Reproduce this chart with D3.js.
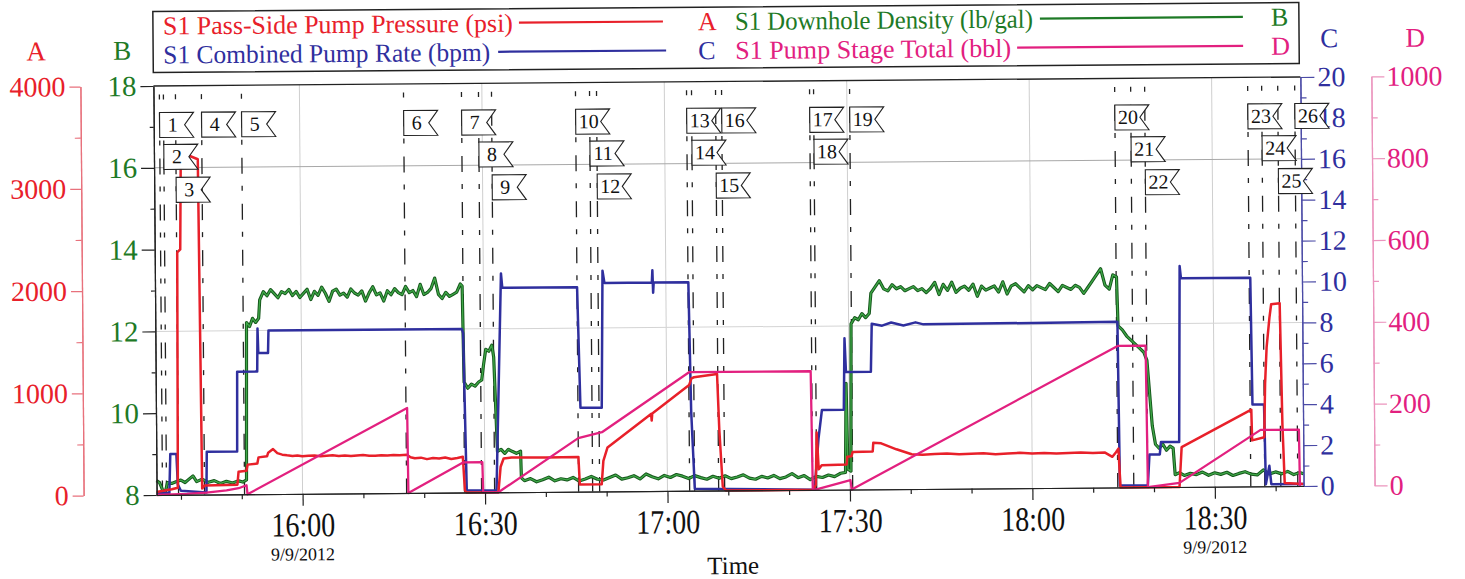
<!DOCTYPE html>
<html>
<head>
<meta charset="utf-8">
<script src="https://cdn.jsdelivr.net/npm/d3@7"></script>
<style>
  html, body { margin: 0; padding: 0; background: #fff; }
  svg { display: block; }
  text { font-family: "Liberation Serif", "DejaVu Serif", serif; }
</style>
</head>
<body>
<svg id="chart" width="1465" height="579"></svg>
<script>

// ---- data (time = minutes after 16:00, 9/9/2012) ----

const seriesNames = [
  "S1 Pass-Side Pump Pressure (psi)",
  "S1 Downhole Density (lb/gal)",
  "S1 Combined Pump Rate (bpm)",
  "S1 Pump Stage Total (bbl)"
];
const seriesAxes = ["A", "B", "C", "D"];

// pressure, psi (axis A)
const pressure = [
  [-24.0, 30], [-22.9, 40], [-21.5, 55], [-20.5, 70], [-20.3, 2370], [-19.8, 2400],
  [-19.6, 3300], [-18.0, 3310], [-16.8, 3280], [-16.5, 60], [-16.1, 90], [-10.7, 94],
  [-10.5, 220], [-9.2, 230], [-9.0, 290], [-7.4, 300], [-7.2, 360], [-5.8, 370],
  [-5.6, 405], [-4.8, 440], [-4.1, 400], [-3.3, 385], [-2.5, 378], [-1.6, 372],
  [-0.8, 376], [0, 368], [1, 372], [2, 375], [3, 366], [4, 370], [5, 374], [6, 368],
  [7, 372], [8, 366], [9, 371], [10, 375], [11, 368], [12, 366], [13, 372], [14, 369],
  [15, 374], [16, 370], [17.2, 375], [17.8, 350], [18.5, 340], [19.5, 345], [20.5, 330],
  [21.5, 340], [22.5, 335], [23.5, 345], [24.5, 330], [25.5, 338], [26.4, 350],
  [26.7, 20], [27.0, 0], [32.2, 0], [32.6, 250], [33.1, 330], [34.4, 340], [40, 338],
  [45.4, 340], [45.6, 70], [49.2, 70], [49.5, 300], [50.2, 430], [57.4, 755],
  [57.5, 690], [57.6, 760], [63.7, 1035], [64.1, 1100], [64.5, 1110], [68.3, 1140],
  [68.6, 600], [69.1, 40], [69.6, 0], [84.0, 0], [84.4, 50], [84.6, 560], [84.9, 200],
  [85.4, 240], [89.5, 245], [89.6, 320], [90.3, 325], [90.5, 367], [93.8, 370],
  [93.9, 455], [95.2, 450], [97.7, 390], [100.2, 340], [102, 335], [104, 340],
  [106, 345], [108, 336], [110, 340], [112, 344], [114, 335], [116, 340], [118, 346],
  [120, 338], [122, 342], [124, 336], [126, 340], [128, 345], [130, 338], [132, 342],
  [133.2, 300], [133.8, 345], [134.2, 380], [134.5, 0], [144.2, 0], [144.6, 390],
  [156.1, 750], [156.2, 450], [158.2, 480], [158.4, 1000], [158.7, 1360], [159.2, 1650],
  [159.5, 1780], [160.9, 1790], [161.2, 600], [161.5, 30], [164.6, 20]
];

// downhole density, lb/gal (axis B)
const density = [
  [-24, 8.35], [-23.5, 8.3], [-23.0, 8.12], [-22.6, 8.05], [-22.2, 8.3], [-21.5, 8.28],
  [-20.8, 8.32], [-20.0, 8.36], [-19.3, 8.3], [-18.5, 8.4], [-18.0, 8.46], [-17.4, 8.32],
  [-16.5, 8.38], [-15.5, 8.3], [-14.5, 8.34], [-13.5, 8.27], [-12.5, 8.32], [-11.5, 8.28],
  [-10.5, 8.33], [-9.8, 8.3], [-9.2, 8.35], [-9.0, 12.2], [-8.5, 12.1], [-8.0, 12.3],
  [-7.5, 12.2], [-7.0, 12.3], [-6.8, 12.75], [-6.2, 12.95], [-5.6, 12.85], [-5.0, 13.0],
  [-4.4, 12.9], [-3.8, 12.8], [-3.2, 12.95], [-2.6, 12.9], [-2.0, 13.0], [-1.4, 12.85],
  [-0.8, 12.95], [-0.2, 12.8], [0.4, 12.9], [1.0, 13.0], [1.6, 12.75], [2.2, 12.95],
  [2.8, 12.85], [3.4, 13.05], [4.0, 12.9], [4.6, 12.7], [5.2, 12.95], [5.8, 13.0],
  [6.4, 12.85], [7.0, 12.9], [7.6, 12.8], [8.2, 13.0], [8.8, 12.9], [9.4, 12.85],
  [10.0, 12.95], [10.6, 12.7], [11.2, 12.9], [11.8, 13.05], [12.4, 12.85], [13.0, 12.9],
  [13.6, 12.7], [14.2, 12.95], [14.8, 12.85], [15.4, 13.0], [16.0, 12.9], [16.6, 12.85],
  [17.2, 13.05], [17.8, 12.9], [18.4, 12.95], [19.0, 12.8], [19.6, 13.1], [20.2, 12.85],
  [20.8, 12.9], [21.4, 13.0], [22.0, 13.25], [22.6, 12.85], [23.2, 12.75], [23.8, 12.9],
  [24.4, 12.8], [25.0, 12.85], [25.6, 12.9], [26.2, 13.1], [26.5, 13.05], [26.7, 10.7],
  [27.3, 10.55], [27.9, 10.65], [28.5, 10.6], [29.1, 10.7], [29.6, 10.75], [29.9, 11.1],
  [30.3, 11.5], [30.8, 11.45], [31.3, 11.6], [31.6, 11.3], [32.1, 9.0], [32.7, 9.05],
  [33.3, 8.95], [33.9, 9.05], [34.5, 9.0], [35.2, 8.95], [35.9, 9.0], [36.0, 8.35],
  [36.5, 8.28], [37.5, 8.33], [38.5, 8.25], [39.5, 8.3], [40.5, 8.36], [41.5, 8.27],
  [42.5, 8.32], [43.5, 8.29], [44.5, 8.35], [45.5, 8.26], [46.5, 8.31], [47.5, 8.37],
  [48.5, 8.3], [49.5, 8.28], [50.5, 8.34], [51.5, 8.4], [52.5, 8.3], [53.5, 8.33],
  [54.5, 8.38], [55.5, 8.3], [56.5, 8.42], [57.5, 8.35], [58.5, 8.3], [59.5, 8.38],
  [60.5, 8.33], [61.5, 8.4], [62.5, 8.36], [63.5, 8.3], [64.5, 8.37], [65.5, 8.32],
  [66.5, 8.28], [67.5, 8.35], [68.5, 8.3], [69.5, 8.36], [70.5, 8.29], [71.5, 8.33],
  [72.5, 8.38], [73.5, 8.3], [74.5, 8.27], [75.5, 8.34], [76.5, 8.3], [77.5, 8.36],
  [78.5, 8.28], [79.5, 8.32], [80.5, 8.4], [81.5, 8.3], [82.5, 8.35], [83.5, 8.25],
  [84.5, 8.33], [85.5, 8.3], [86.5, 8.36], [87.5, 8.32], [88.5, 8.4], [89.3, 8.42],
  [89.5, 10.6], [89.7, 8.5], [90.2, 8.45], [90.4, 12.05], [91.0, 12.2], [91.6, 12.15],
  [92.2, 12.3], [92.8, 12.2], [93.4, 12.3], [93.7, 12.8], [94.4, 12.95], [95.1, 13.1],
  [95.8, 12.9], [96.5, 12.85], [97.2, 13.0], [97.9, 12.9], [98.6, 12.95], [99.3, 12.85],
  [100.0, 12.9], [100.7, 12.95], [101.4, 12.85], [102.1, 12.9], [102.8, 12.8], [103.5, 12.9],
  [104.2, 13.05], [104.9, 12.75], [105.6, 13.0], [106.3, 12.85], [107.0, 13.05], [107.7, 12.8],
  [108.4, 12.9], [109.1, 12.95], [109.8, 12.85], [110.5, 13.0], [111.2, 12.7], [111.9, 12.95],
  [112.6, 12.85], [113.3, 12.9], [114.0, 12.95], [114.7, 12.8], [115.4, 13.05], [116.1, 12.75],
  [116.8, 12.95], [117.5, 13.0], [118.2, 12.9], [118.9, 12.8], [119.6, 12.95], [120.3, 12.85],
  [121.0, 12.95], [121.7, 12.9], [122.4, 12.85], [123.1, 13.0], [123.8, 12.9], [124.5, 12.8],
  [125.2, 12.95], [125.9, 12.9], [126.6, 12.85], [127.3, 12.95], [128.0, 12.9], [128.7, 12.75],
  [129.4, 12.9], [130.1, 13.05], [130.8, 13.2], [131.5, 13.35], [132.2, 12.95], [132.9, 12.85],
  [133.5, 13.2], [134.1, 13.15], [134.3, 11.95], [135.0, 11.85], [135.7, 11.7], [136.4, 11.6],
  [137.1, 11.5], [137.8, 11.4], [138.5, 11.3], [139.0, 11.1], [139.4, 10.3], [139.8, 9.5],
  [140.3, 9.05], [140.9, 8.95], [141.5, 9.05], [142.1, 8.9], [142.7, 9.0], [143.2, 8.95],
  [143.5, 8.3], [144.2, 8.35], [145.0, 8.28], [146.0, 8.33], [147.0, 8.3], [148.0, 8.36],
  [149.0, 8.28], [150.0, 8.34], [151.0, 8.3], [152.0, 8.35], [153.0, 8.27], [154.0, 8.32],
  [155.0, 8.36], [156.0, 8.3], [157.0, 8.28], [158.0, 8.4], [159.0, 8.3], [160.0, 8.35],
  [161.0, 8.3], [162.0, 8.36], [163.0, 8.28], [164.0, 8.33], [164.6, 8.3]
];

// combined pump rate, bpm (axis C)
const rate = [
  [-24, 0.1], [-21.9, 0.1], [-21.7, 2.0], [-20.7, 2.0], [-20.5, 0.5], [-20.0, 0.2],
  [-15.8, 0.1], [-15.7, 2.1], [-10.7, 2.1], [-10.6, 6.0], [-7.3, 6.0], [-7.2, 8.1],
  [-7.1, 6.9], [-5.5, 6.9], [-5.4, 8.0], [26.4, 8.0], [26.6, 7.8], [27.0, 0.1],
  [31.9, 0.1], [32.9, 10.7], [33.1, 10.0], [45.4, 10.0], [45.8, 4.1], [49.3, 4.1],
  [49.6, 10.8], [49.9, 10.2], [57.7, 10.2], [57.8, 10.8], [57.9, 9.7], [58.0, 10.2],
  [63.7, 10.2], [64.0, 3.9], [64.5, 0.1], [84.2, 0.0], [84.9, 2.5], [85.5, 3.9],
  [89.1, 3.9], [89.3, 7.4], [89.5, 5.75], [93.6, 5.75], [93.8, 8.1], [95.5, 8.0],
  [97, 8.15], [99, 8.0], [101, 8.15], [102.3, 8.05], [134.2, 8.1], [134.4, 0.1],
  [139.0, 0.1], [139.3, 1.6], [141.0, 1.6], [141.2, 2.2], [144.2, 2.2], [144.5, 10.8],
  [144.7, 10.2], [156.1, 10.2], [156.3, 4.0], [158.2, 4.0], [158.4, 0.1], [159.0, 1.0],
  [159.3, 0.1], [164.6, 0.1]
];

// pump stage total, bbl (axis D)
const stage = [
  [-24, 0], [-19, 2], [-15.8, 5], [-12.5, 10], [-10.5, 15], [-9.2, 22], [-9.05, 0],
  [17.3, 208], [17.4, 0], [26.5, 74], [29.6, 74], [29.7, 0], [32.2, 0], [45.4, 131],
  [49.3, 145], [63.7, 290], [83.7, 290], [83.9, 0], [84.2, 0], [90.1, 23], [90.3, 0],
  [134.2, 346], [138.8, 346], [139.0, 0], [144.2, 10], [157.6, 138], [163.9, 138],
  [164.0, 0]
];

// event markers
const eventLabels = ["1","2","3","4","5","6","7","8","9","10","11","12","13",
  "14","15","16","17","18","19","20","21","22","23","24","25","26"];
const eventTimes = [-23.03, -22.37, -20.39, -16.12, -9.54, 17.11, 26.64, 29.44, 31.58,
  45.39, 47.70, 48.85, 63.65, 64.47, 68.42, 69.41, 83.88, 84.54, 90.46, 134.05,
  136.68, 138.98, 155.92, 158.22, 160.86, 163.65];
const eventRows = [0,1,2,0,0,0,0,1,2,0,1,2,0,1,2,0,0,1,0,0,1,2,0,1,2,0];

// axis ticks
const ticksA = [0, 1000, 2000, 3000, 4000];
const minorA = [500, 1500, 2500, 3500];
const ticksB = [8, 10, 12, 14, 16, 18];
const minorB = [9, 11, 13, 15, 17];
const ticksC = [0, 2, 4, 6, 8, 10, 12, 14, 16, 18, 20];
const minorC = [1, 3, 5, 7, 9, 11, 13, 15, 17, 19];
const ticksD = [0, 200, 400, 600, 800, 1000];
const minorD = [100, 300, 500, 700, 900];
const ticksX = [0, 30, 60, 90, 120, 150];
const minorX = [-20, -10, 10, 20, 40, 50, 70, 80, 100, 110, 130, 140, 160];
const dateTicks = [0, 150];
const gridB = [12, 16];
const timeRange = [-24, 164.6];

// ---- layout & style ----

const colors = { A: "#e8202a", B: "#1e7a26", C: "#2f2f9e", D: "#e2207f" };
const plot = { left: 155, right: 1302, top: 81.5, bottom: 490.5 };
const serif = "'Liberation Serif', 'DejaVu Serif', serif";
const plain = d3.format("d");

const base = new Date(2012, 8, 9, 16, 0, 0);
const toDate = m => new Date(base.getTime() + m * 60000);

const svg = d3.select("#chart");
// the scanned original sits slightly tilted
const g = svg.append("g").attr("transform", "rotate(-0.45 728 286)");

const x = d3.scaleTime()
  .domain(timeRange.map(toDate))
  .range([plot.left, plot.right]);
const yA = d3.scaleLinear().domain([0, 4000]).range([plot.bottom, plot.top]);
const yB = d3.scaleLinear().domain([8, 18]).range([plot.bottom, plot.top]);
const yC = d3.scaleLinear().domain([0, 20]).range([plot.bottom, plot.top]);
const yD = d3.scaleLinear().domain([0, 1000]).range([plot.bottom, plot.top]);

// grid
g.append("g").selectAll("line").data(ticksX).join("line")
  .attr("x1", d => x(toDate(d))).attr("x2", d => x(toDate(d)))
  .attr("y1", plot.top).attr("y2", plot.bottom)
  .attr("stroke", "#cfcfcf").attr("stroke-width", 1);
g.append("g").selectAll("line").data(gridB).join("line")
  .attr("x1", plot.left).attr("x2", plot.right)
  .attr("y1", d => yB(d)).attr("y2", d => yB(d))
  .attr("stroke", d => d === 16 ? "#a8a8a8" : "#d4d4d4").attr("stroke-width", 1);

// event lines
g.append("g").selectAll("line").data(eventTimes).join("line")
  .attr("x1", d => x(toDate(d))).attr("x2", d => x(toDate(d)))
  .attr("y1", 90).attr("y2", plot.bottom)
  .attr("stroke", "#222").attr("stroke-width", 1.3)
  .attr("stroke-dasharray", "16,12,5,13").attr("stroke-dashoffset", 28);

// series
function drawLine(data, y, color, width) {
  const line = d3.line().x(d => x(toDate(d[0]))).y(d => y(d[1]));
  return g.append("path").datum(data)
    .attr("d", line).attr("fill", "none")
    .attr("stroke", color).attr("stroke-width", width)
    .attr("stroke-linejoin", "round");
}
drawLine(density, yB, "#15561b", 3.2);
drawLine(density, yB, "#3fa848", 1.3);
drawLine(rate, yC, colors.C, 2.5);
drawLine(pressure, yA, colors.A, 2.5);
drawLine(stage, yD, colors.D, 2.3);

// axis helper
function styleAxis(sel, lineColor, textColor, size) {
  sel.selectAll("path, line").attr("stroke", lineColor).attr("stroke-width", 1.2);
  sel.selectAll("text").style("font-family", serif)
    .style("font-size", size + "px").attr("fill", textColor);
}

// A axis
const axA = g.append("g").attr("transform", "translate(82,0)");
axA.append("g").call(d3.axisLeft(yA).tickValues(minorA).tickSize(6)
  .tickSizeOuter(0).tickFormat(""));
axA.append("g").call(d3.axisLeft(yA).tickValues(ticksA).tickSize(11)
  .tickSizeOuter(0).tickPadding(4).tickFormat(plain));
styleAxis(axA, "#e8717c", colors.A, 28);

// B axis
const axB = g.append("g").attr("transform", `translate(${plot.left},0)`);
axB.append("g").call(d3.axisLeft(yB).tickValues(minorB).tickSize(4)
  .tickSizeOuter(0).tickFormat(""));
axB.append("g").call(d3.axisLeft(yB).tickValues(ticksB).tickSize(13)
  .tickSizeOuter(0).tickPadding(4).tickFormat(plain));
styleAxis(axB, "#222", colors.B, 29);

// C axis
const axC = g.append("g").attr("transform", `translate(${plot.right},0)`);
axC.append("g").call(d3.axisRight(yC).tickValues(minorC).tickSize(6)
  .tickSizeOuter(0).tickFormat(""));
axC.append("g").call(d3.axisRight(yC).tickValues(ticksC).tickSize(14)
  .tickSizeOuter(0).tickPadding(3).tickFormat(plain));
styleAxis(axC, "#4b4ba6", colors.C, 28);

// D axis
const axD = g.append("g").attr("transform", "translate(1373,0)");
axD.append("g").call(d3.axisRight(yD).tickValues(minorD).tickSize(6)
  .tickSizeOuter(0).tickFormat(""));
axD.append("g").call(d3.axisRight(yD).tickValues(ticksD).tickSize(13)
  .tickSizeOuter(0).tickPadding(2).tickFormat(plain));
styleAxis(axD, "#eb94bd", colors.D, 28);

// x axis
const axX = g.append("g").attr("transform", `translate(0,${plot.bottom})`);
axX.append("g").call(d3.axisBottom(x).tickValues(minorX.map(toDate)).tickSize(5)
  .tickSizeOuter(0).tickFormat(""));
axX.append("g").call(d3.axisBottom(x).tickValues(ticksX.map(toDate)).tickSize(12)
  .tickSizeOuter(0).tickFormat(d3.timeFormat("%H:%M")));
styleAxis(axX, "#222", "#111", 34);
axX.selectAll("text").attr("y", 42.5).attr("dy", 0)
  .attr("textLength", 64).attr("lengthAdjust", "spacingAndGlyphs");

g.append("g").selectAll("text").data(dateTicks).join("text")
  .attr("x", d => x(toDate(d))).attr("y", 557)
  .attr("text-anchor", "middle").attr("fill", "#111")
  .style("font-size", "18px").text("9/9/2012");

g.append("text").attr("x", 731).attr("y", 574).attr("text-anchor", "middle")
  .attr("fill", "#111").style("font-size", "25px").text("Time");

// plot top border
g.append("line").attr("x1", plot.left).attr("x2", plot.right)
  .attr("y1", plot.top).attr("y2", plot.top)
  .attr("stroke", "#222").attr("stroke-width", 1.3);

// axis letters
const axisLetterPos = { A: [38, 55], B: [124, 55], C: [1331, 52], D: [1417, 52] };
seriesAxes.forEach(k => {
  g.append("text").attr("x", axisLetterPos[k][0]).attr("y", axisLetterPos[k][1])
    .attr("text-anchor", "middle").attr("fill", colors[k])
    .style("font-size", "27px").text(k);
});

// flags
const rowTop = [108, 140, 173];
const flagW = 34, flagH = 25, notch = 9;
const flags = g.append("g").selectAll("g").data(eventLabels).join("g")
  .attr("transform", (d, i) => `translate(${x(toDate(eventTimes[i]))},${rowTop[eventRows[i]]})`);
flags.append("path")
  .attr("d", `M0,0H${flagW}L${flagW - notch},${flagH / 2}L${flagW},${flagH}H0Z`)
  .attr("fill", "#fff").attr("stroke", "#222").attr("stroke-width", 1.1);
flags.append("text").attr("x", 13).attr("y", 19)
  .attr("text-anchor", "middle").attr("fill", "#111")
  .style("font-size", "20px").text(d => d);

// legend (pressure, density / rate, stage)
const legendBox = { x: 155, y: 7, w: 1146, h: 61 };
const legendLayout = [
  { tx: 165, ty: 30, tl: 350, lx1: 521, lx2: 665, ly: 21, ax: 700 },
  { tx: 737, ty: 30, tl: 298, lx1: 1042, lx2: 1245, ly: 21, ax: 1273 },
  { tx: 165, ty: 59, tl: 327, lx1: 500, lx2: 668, ly: 50, ax: 700 },
  { tx: 737, ty: 59, tl: 276, lx1: 1019, lx2: 1245, ly: 50, ax: 1273 }
];
const leg = g.append("g");
leg.append("rect").attr("x", legendBox.x).attr("y", legendBox.y)
  .attr("width", legendBox.w).attr("height", legendBox.h)
  .attr("fill", "#fff").attr("stroke", "#222").attr("stroke-width", 1.5);
seriesNames.forEach((name, i) => {
  const L = legendLayout[i];
  const c = colors[seriesAxes[i]];
  leg.append("text").attr("x", L.tx).attr("y", L.ty).attr("fill", c)
    .style("font-size", "26px").attr("textLength", L.tl)
    .attr("lengthAdjust", "spacingAndGlyphs").text(name);
  leg.append("line").attr("x1", L.lx1).attr("x2", L.lx2)
    .attr("y1", L.ly).attr("y2", L.ly).attr("stroke", c).attr("stroke-width", 2.2);
  leg.append("text").attr("x", L.ax).attr("y", L.ty).attr("fill", c)
    .style("font-size", "26px").text(seriesAxes[i]);
});

</script>
</body>
</html>
